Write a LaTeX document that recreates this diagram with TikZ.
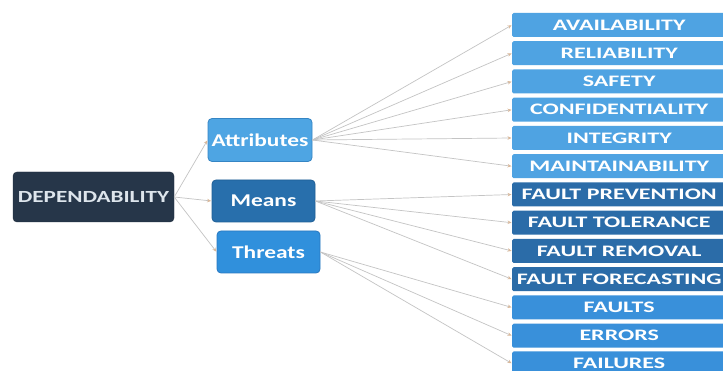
\documentclass[tikz,border=0pt]{standalone}
\usepackage{fontspec}
\setmainfont{Carlito}
\newfontfamily\boxfont[FakeStretch=1.3]{Carlito}
\newfontfamily\depfont[FakeStretch=1.36]{Carlito}
\newfontfamily\itemfont[FakeStretch=1.5]{Carlito}
\usetikzlibrary{arrows.meta}
\definecolor{depc}{HTML}{263649}
\definecolor{deptext}{HTML}{DDE5EC}
\definecolor{attc}{HTML}{4EA5E3}
\definecolor{attb}{HTML}{3585C4}
\definecolor{meanc}{HTML}{286FAC}
\definecolor{meanb}{HTML}{1F5F96}
\definecolor{thrc}{HTML}{3090DC}
\definecolor{thrb}{HTML}{2878C0}
\definecolor{attitem}{HTML}{4FA3E2}
\definecolor{meanitem}{HTML}{2B6CA8}
\definecolor{thritem}{HTML}{3990DA}
\definecolor{linec}{HTML}{C4C4C4}
\definecolor{tipc}{HTML}{D9B89A}
\tikzset{
  mid/.style={rectangle, rounded corners=4pt, draw, line width=0.8pt, inner sep=0pt,
    minimum height=43pt, text=white, font=\boxfont\bfseries\fontsize{18}{18}\selectfont},
  itembox/.style={rectangle, rounded corners=1.5pt, inner sep=0pt, anchor=west,
    minimum width=214pt, minimum height=24pt, text=white,
    font=\itemfont\bfseries\fontsize{16}{16}\selectfont},
  conn/.style={draw=linec, line width=0.7pt, -{Stealth[length=4pt,width=3.5pt,color=tipc]}, shorten >=0.5pt}
}
\begin{document}
\begin{tikzpicture}[x=1pt,y=-1pt]
\useasboundingbox (0,0) rectangle (723,371);
\clip (0,0) rectangle (723,371);
\fill[white] (0,0) rectangle (723,371);

\node[rectangle, rounded corners=4pt, fill=depc, draw=depc!80!black, inner sep=0pt,
  minimum width=161pt, minimum height=50pt, text=deptext,
  font=\depfont\bfseries\fontsize{17}{17}\selectfont] (dep) at (93.5,197) {DEPENDABILITY};

\node[mid, fill=attc, draw=attb, minimum width=104pt] (att) at (260,140) {Attributes};
\node[mid, fill=meanc, draw=meanb, minimum width=103pt, minimum height=42pt] (mea) at (263.5,201) {Means};
\node[mid, fill=thrc, draw=thrb, minimum width=103pt, minimum height=42pt] (thr) at (268.5,252) {Threats};

\node[itembox, fill=attitem] (a1) at (512,25) {AVAILABILITY};
\node[itembox, fill=attitem] (a2) at (512,53.25) {RELIABILITY};
\node[itembox, fill=attitem] (a3) at (512,81.5) {SAFETY};
\node[itembox, fill=attitem] (a4) at (512,109.75) {CONFIDENTIALITY};
\node[itembox, fill=attitem] (a5) at (512,138) {INTEGRITY};
\node[itembox, fill=attitem] (a6) at (512,166.25) {MAINTAINABILITY};
\node[itembox, fill=meanitem] (m1) at (512,194.5) {FAULT PREVENTION};
\node[itembox, fill=meanitem] (m2) at (512,222.75) {FAULT TOLERANCE};
\node[itembox, fill=meanitem] (m3) at (512,251) {FAULT REMOVAL};
\node[itembox, fill=meanitem] (m4) at (512,279.25) {FAULT FORECASTING};
\node[itembox, fill=thritem] (t1) at (512,307.5) {FAULTS};
\node[itembox, fill=thritem] (t2) at (512,335.75) {ERRORS};
\node[itembox, fill=thritem] (t3) at (512,363.5) {FAILURES};

\draw[conn] (dep.east) -- (att.west);
\draw[conn] (dep.east) -- (mea.west);
\draw[conn] (dep.east) -- (thr.west);

\foreach \n in {a1,a2,a3,a4,a5,a6} \draw[conn] (att.east) -- (\n.west);
\foreach \n in {m1,m2,m3,m4} \draw[conn] (mea.east) -- (\n.west);
\foreach \n in {t1,t2,t3} \draw[conn] (thr.east) -- (\n.west);
\end{tikzpicture}
\end{document}
